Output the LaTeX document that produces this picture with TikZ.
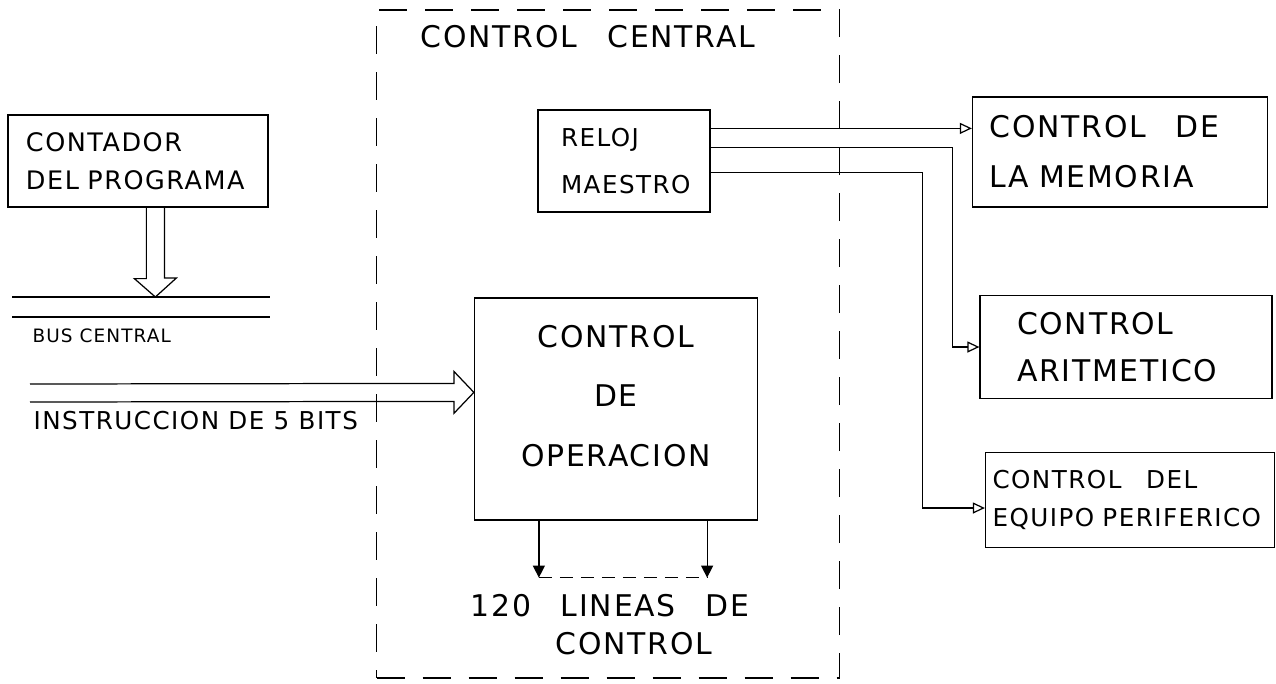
\documentclass[tikz,border=0pt]{standalone}
\usepackage{fontspec}
\setmainfont{DejaVu Sans}[LetterSpace=6]
\usetikzlibrary{arrows.meta,calc,positioning}

\begin{document}
\begin{tikzpicture}[
  x=0.2mm, y=-0.2mm,
  line width=0.7pt,
  bloque/.style={draw, line width=0.7pt, inner ysep=0pt, align=left},
  marco/.style={draw, dash pattern=on 5.6mm off 3.6mm, minimum width=92.6mm, minimum height=133.6mm, inner sep=0pt},
  senal/.style={-{Triangle[open,length=2.4mm,width=2.2mm]}},
  linea/.style={-{Triangle[length=2.4mm,width=2.4mm]}},
  hueca/.style={line width=0.7pt, line join=miter},
  rotulo/.style={inner sep=0pt, font=\fontsize{17}{20}\selectfont}
]
  \useasboundingbox (0,0) rectangle (1276,683);

  % Marco del control central
  \node[marco] (central) at (608,344) {};
  \node[rotulo] (tcentral) at (588,37) {CONTROL\quad CENTRAL};

  % Bloques
  \node[bloque, minimum width=52mm, minimum height=18.4mm, inner xsep=3.6mm, text width=44.8mm,
        font=\fontsize{14.5}{21.6}\selectfont] (cont) at (138,161) {CONTADOR\\DEL PROGRAMA};
  \node[bloque, minimum width=34.4mm, minimum height=20.4mm, inner xsep=4.6mm, text width=25.2mm,
        font=\fontsize{14}{27}\selectfont] (reloj) at (624,161) {RELOJ\\MAESTRO};
  \node[bloque, minimum width=56.6mm, minimum height=44.4mm, align=center, text width=50mm,
        text depth=83pt, font=\fontsize{17}{34}\selectfont] (oper) at (616,409) {CONTROL\\DE\\OPERACION};
  \node[bloque, minimum width=59mm, minimum height=22mm, inner xsep=3.4mm, text width=52.2mm,
        font=\fontsize{17}{28.5}\selectfont] (mem) at (1120,152) {CONTROL\quad DE\\LA MEMORIA};
  \node[bloque, minimum width=58.4mm, minimum height=20.6mm, inner xsep=7.4mm, text width=43.6mm,
        font=\fontsize{17}{27}\selectfont] (arit) at (1126,347) {CONTROL\\ARITMETICO};
  \node[bloque, minimum width=57.8mm, minimum height=19mm, inner xsep=1.4mm, text width=55mm,
        font=\fontsize{14}{22}\selectfont] (peri) at (1130,500) {CONTROL\quad DEL\\EQUIPO PERIFERICO};

  % Bus central
  \coordinate (bus1) at (12,297);
  \coordinate (bus2) at (12,317);
  \draw (bus1) -- ++(258,0);
  \draw (bus2) -- ++(258,0);
  \node[rotulo, anchor=west, font=\fontsize{10.5}{13}\selectfont] (tbus) at (32,336) {BUS CENTRAL};

  % Flecha hueca al bus
  \coordinate (pc) at ($(cont.south west)+(148,0)$);
  \draw[hueca] ($(pc)+(-9,0)$) -- ++(0,71) -- ++(-12,0) -- (pc |- bus1)
    -- ++(21,-19) -- ++(-12,0) -- ++(0,-71);

  % Instruccion
  \coordinate (itail) at (30,384);
  \coordinate (itip) at ($(oper.north west)+(0,95)$);
  \draw[hueca] (itail) -- ($(itip)+(-20,-9)$) -- ++(0,-12) -- (itip)
    -- ++(-20,21) -- ++(0,-12) -- ($(itail)+(0,18)$);
  \node[rotulo, anchor=west, font=\fontsize{14}{16}\selectfont] (tinstr) at (33,421) {INSTRUCCION DE 5 BITS};

  % Salidas del reloj
  \coordinate (r1) at ($(reloj.north east)+(0,19)$);
  \coordinate (r2) at ($(reloj.north east)+(0,38)$);
  \coordinate (r3) at ($(reloj.north east)+(0,63)$);
  \draw[senal] (r1) -- (r1 -| mem.west);
  \draw[senal] (r2) -- ++(242,0) |- (arit.west);
  \draw[senal] (r3) -- ++(212,0) |- ([yshift=-1.6mm]peri.west);

  % 120 lineas de control
  \coordinate (o1) at ($(oper.south west)+(65,0)$);
  \coordinate (o2) at ($(oper.south east)+(-51,0)$);
  \coordinate (l1) at ($(o1)+(0,57)$);
  \coordinate (l2) at ($(o2)+(0,57)$);
  \draw[linea] (o1) -- (l1);
  \draw[linea] (o2) -- (l2);
  \draw[dash pattern=on 2.6mm off 1.6mm] (l1) -- (l2);
  \node[rotulo] (t120) at (610,606) {120\quad LINEAS\quad DE};
  \node[rotulo] (tctrl) at (634,644) {CONTROL};
\end{tikzpicture}
\end{document}
